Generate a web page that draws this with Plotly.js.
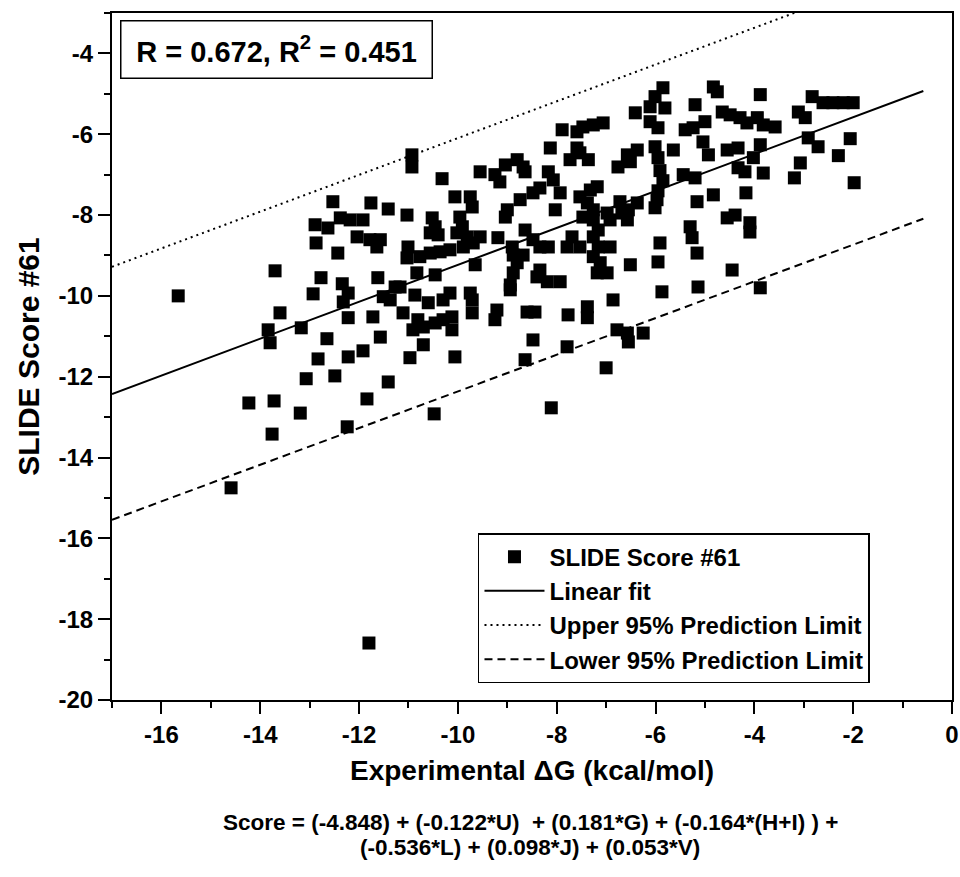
<!DOCTYPE html>
<html><head><meta charset="utf-8">
<script src="https://cdn.plot.ly/plotly-3.0.1.min.js"></script>
<style>html,body{margin:0;padding:0;background:#fff}</style>
</head><body>
<div id="chart" style="width:960px;height:877px"></div>
<script>
// Experimental dG (kcal/mol) vs SLIDE Score #61
const expDG = [
-15.66,-13.70,-13.60,-13.84,-13.80,-13.17,-12.65,-12.53,-11.76,-11.41,
-12.89,-12.63,-12.38,-12.18,-11.92,-12.04,-11.78,-11.57,-11.64,-12.87,
-12.43,-12.77,-12.93,-12.34,-12.22,-12.32,-12.22,-11.62,-11.51,-11.37,
-11.17,-11.72,-11.57,-11.11,-11.03,-11.01,-11.03,-10.93,-10.93,-12.83,
-12.22,-11.92,-13.07,-12.49,-11.41,-14.23,-13.72,-13.19,-11.84,-13.76,
-12.24,-14.59,-11.80,-10.97,
-10.32,-10.06,-9.75,-9.71,-10.52,-10.46,-10.56,-10.40,-9.96,-9.91,
-10.02,-9.81,-9.55,-10.77,-10.56,-10.36,-10.16,-9.89,-9.69,-10.83,
-10.46,-9.65,-11.27,-10.87,-10.60,-10.30,-10.16,-9.75,-9.71,-10.81,
-10.91,-10.70,-10.46,-10.30,-10.12,-10.12,-9.71,-9.21,-9.25,-8.60,
-8.44,-10.70,-8.48,-9.55,-9.25,-9.15,-9.04,-8.80,-8.68,-8.64,
-9.00,-9.04,-8.74,-8.48,-8.34,-8.17,-8.07,-7.93,-8.03,-9.19,
-8.90,-8.88,-8.80,-8.88,-8.94,-8.94,-8.64,-8.48,-8.34,-8.17,
-8.68,-8.34,-8.40,-8.19,-7.93,-7.89,-7.59,-7.47,-7.26,-7.06,
-8.13,-7.59,-7.53,-7.73,-7.36,-6.41,-6.11,-5.81,-5.95,-6.11,
-5.64,-6.37,-6.57,-6.51,-6.76,-6.01,-5.95,-5.91,-5.85,-5.95,
-5.97,-7.53,-7.32,-7.18,-7.38,-7.26,-7.47,-7.26,-7.16,-6.72,
-6.55,-6.37,-6.68,-6.57,-6.98,-6.92,-7.69,-7.79,-7.53,-7.26,
-7.16,-7.26,-7.12,-6.98,-7.18,-6.92,-6.51,-5.91,-5.95,-5.87,
-6.86,-7.38,-7.38,-7.77,-6.78,-6.57,-6.55,-6.25,-7.79,-10.48,
-10.06,-8.64,-8.11,-7.00,
-5.85,-6.01,-5.20,-4.83,-4.75,-4.65,-4.49,-4.29,-5.00,-5.40,
-5.24,-5.04,-4.93,-6.01,-5.44,-5.20,-4.83,-5.16,-4.55,-4.33,
-4.33,-4.19,-3.88,-4.15,-3.94,-3.82,-3.58,-3.88,-4.02,-3.82,
-4.17,-4.55,-4.39,-4.09,-4.09,-5.30,-5.26,-5.16,-4.45,-5.14,
-3.88,-2.83,-2.61,-2.41,-2.20,-2.00,-3.11,-2.97,-2.91,-2.71,
-3.07,-3.19,-2.30,-2.06,-1.98
];
const slideScore = [
-10.00,-9.38,-10.42,-10.84,-11.16,-10.79,-11.06,-7.67,-7.70,-7.85,
-8.24,-8.32,-8.07,-8.12,-8.12,-8.54,-8.61,-8.61,-8.79,-8.69,
-8.94,-9.55,-9.95,-9.70,-9.93,-10.15,-10.54,-9.55,-10.02,-10.10,
-9.78,-10.52,-11.02,-10.42,-8.00,-8.79,-9.06,-6.51,-6.81,-11.56,
-11.51,-11.36,-12.05,-11.98,-12.13,-12.65,-12.60,-12.90,-12.55,-13.42,
-13.24,-14.75,-18.59,-11.53,
-7.10,-7.55,-7.55,-7.80,-8.07,-8.29,-8.44,-8.49,-8.05,-8.29,
-8.44,-8.54,-8.54,-9.03,-8.94,-8.91,-8.86,-8.79,-8.69,-9.43,
-9.48,-9.23,-9.78,-9.98,-10.17,-10.10,-9.93,-9.93,-10.10,-10.59,
-10.84,-10.77,-10.67,-10.59,-10.52,-10.84,-10.42,-10.35,-10.59,-10.40,
-10.40,-11.21,-11.09,-6.93,-7.00,-7.18,-6.76,-6.63,-6.81,-6.93,
-7.87,-8.05,-7.62,-7.45,-7.33,-6.93,-7.13,-7.45,-7.87,-8.56,
-8.79,-8.99,-9.18,-9.43,-9.73,-9.85,-8.37,-8.61,-8.79,-8.79,
-8.99,-9.36,-9.53,-9.65,-9.65,-5.89,-5.94,-5.82,-5.77,-5.72,
-6.34,-6.34,-6.46,-6.63,-6.63,-5.47,-5.32,-5.35,-5.84,-5.69,
-6.39,-6.39,-6.51,-6.68,-6.81,-6.31,-6.58,-6.90,-7.15,-7.40,
-7.62,-7.55,-7.38,-7.30,-7.70,-7.87,-8.05,-8.12,-8.37,-7.67,
-7.87,-7.70,-7.95,-8.12,-7.95,-8.12,-8.54,-8.79,-8.79,-8.54,
-8.79,-9.03,-9.18,-9.43,-9.43,-8.79,-9.23,-8.69,-9.16,-9.90,
-10.10,-10.27,-10.54,-10.47,-10.84,-10.92,-11.14,-10.92,-11.26,-12.92,
-11.51,-11.58,-12.77,-11.78,
-4.85,-5.07,-5.27,-4.83,-4.95,-5.45,-5.52,-5.59,-5.69,-5.89,
-5.84,-6.19,-6.51,-7.82,-7.00,-7.08,-7.50,-7.67,-6.39,-6.34,
-6.83,-6.93,-5.02,-5.72,-5.59,-5.77,-5.82,-6.26,-6.58,-6.96,
-7.45,-8.07,-8.00,-8.19,-8.42,-8.29,-8.56,-8.94,-9.36,-9.78,
-9.80,-5.07,-5.22,-5.22,-5.22,-5.22,-5.45,-5.59,-6.09,-6.31,
-6.71,-7.08,-6.53,-6.11,-7.20
];
// fitted line and 95% prediction limits (end points)
const fitX = [-17, -0.58];
const fitY = [-12.43, -4.93];
const upperX = [-17, -0.58];
const upperY = [-9.28, -1.81];
const lowerX = [-17, -0.58];
const lowerY = [-15.54, -8.09];

// tick labels (plain hyphen minus, as in the figure)
const xTickVals = [-16, -14, -12, -10, -8, -6, -4, -2, 0];
const xTickText = ["-16", "-14", "-12", "-10", "-8", "-6", "-4", "-2", "0"];
const yTickVals = [-20, -18, -16, -14, -12, -10, -8, -6, -4];
const yTickText = ["-20", "-18", "-16", "-14", "-12", "-10", "-8", "-6", "-4"];

const seriesNames = ["SLIDE Score #61", "Linear fit", "Upper 95% Prediction Limit", "Lower 95% Prediction Limit"];
const xTitle = "Experimental \u0394G (kcal/mol)";
const yTitle = "SLIDE Score #61";
const statText = "R = 0.672, R<sup>2</sup> = 0.451";
const eqLine1 = "Score = (-4.848) + (-0.122*U)  + (0.181*G) + (-0.164*(H+I) ) +";
const eqLine2 = "(-0.536*L) + (0.098*J) + (0.053*V)";

const FONT = "Liberation Sans, Arial, Helvetica, sans-serif";

const traces = [
  {x: expDG, y: slideScore, mode: "markers", type: "scatter", name: seriesNames[0],
   marker: {symbol: "square", size: 13, color: "#000"}},
  {x: fitX, y: fitY, mode: "lines", type: "scatter", name: seriesNames[1],
   line: {color: "#000", width: 2}},
  {x: upperX, y: upperY, mode: "lines", type: "scatter", name: seriesNames[2],
   line: {color: "#000", width: 2, dash: "2px,4px"}},
  {x: lowerX, y: lowerY, mode: "lines", type: "scatter", name: seriesNames[3],
   line: {color: "#000", width: 2, dash: "8px,5px"}}
];

const axisCommon = {
  showline: true, linecolor: "#000", linewidth: 2, mirror: true,
  ticks: "outside", ticklen: 12, tickwidth: 2, tickcolor: "#000",
  showgrid: false, zeroline: false, tickmode: "array",
  tickfont: {family: FONT, size: 24, color: "#000", weight: "bold"},
  minor: {tickmode: "linear", tick0: 0, dtick: 1, ticks: "outside", ticklen: 6, tickwidth: 2,
          tickcolor: "#000", showgrid: false}
};

const layout = {
  width: 960, height: 877,
  margin: {l: 112, r: 8, t: 13, b: 177},
  paper_bgcolor: "#fff", plot_bgcolor: "#fff",
  showlegend: true,
  xaxis: Object.assign({}, axisCommon, {
    range: [-17, 0], tickvals: xTickVals, ticktext: xTickText, automargin: false,
    title: {text: xTitle, font: {family: FONT, size: 28, color: "#000", weight: "bold"}, standoff: 14}
  }),
  yaxis: Object.assign({}, axisCommon, {
    range: [-20, -3], tickvals: yTickVals, ticktext: yTickText, automargin: false,
    title: {text: yTitle, font: {family: FONT, size: 30, color: "#000", weight: "bold"}, standoff: 10}
  }),
  legend: {
    x: 0.4357, y: 0.243, xanchor: "left", yanchor: "top",
    bgcolor: "#fff", bordercolor: "#000", borderwidth: 1.5,
    font: {family: FONT, size: 24, color: "#000", weight: "bold"},
    itemwidth: 60, tracegroupgap: 0
  },
  annotations: [
    {text: statText, xref: "paper", yref: "paper", x: 0.0095, y: 0.99, xanchor: "left", yanchor: "top",
     showarrow: false, bordercolor: "#000", borderwidth: 1.5, bgcolor: "#fff", borderpad: 6,
     width: 298, height: 44,
     font: {family: FONT, size: 29, color: "#000", weight: "bold"}},
    {text: eqLine1, xref: "paper", yref: "paper", x: 0.498, y: -0.1776, xanchor: "center", yanchor: "middle",
     showarrow: false, font: {family: FONT, size: 22.5, color: "#000", weight: "bold"}},
    {text: eqLine2, xref: "paper", yref: "paper", x: 0.498, y: -0.2154, xanchor: "center", yanchor: "middle",
     showarrow: false, font: {family: FONT, size: 22.5, color: "#000", weight: "bold"}}
  ]
};

Plotly.newPlot("chart", traces, layout, {displayModeBar: false, staticPlot: true});
</script>
</body></html>
